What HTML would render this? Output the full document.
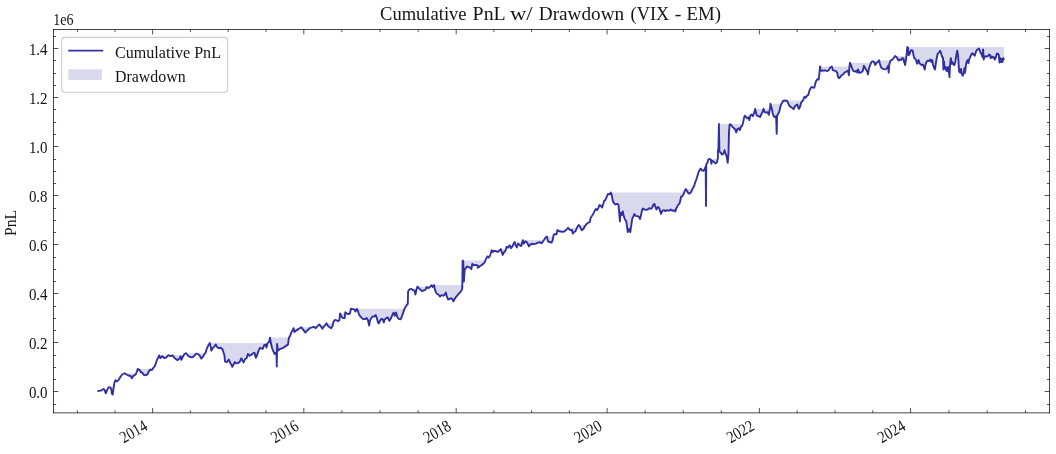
<!DOCTYPE html>
<html><head><meta charset="utf-8"><title>Cumulative PnL w/ Drawdown (VIX - EM)</title>
<style>
html,body{margin:0;padding:0;background:#fff;}
body{width:1056px;height:454px;overflow:hidden;}
svg{display:block;filter:blur(0.35px)}
text{font-family:"Liberation Serif",serif;fill:#141414;}
</style></head><body>
<svg width="1056" height="454" viewBox="0 0 1056 454">
<rect x="0" y="0" width="1056" height="454" fill="#ffffff"/>
<path d="M97.3,391.1 L100.8,390.6 L103.5,389.0 L104.6,390.2 L105.8,393.4 L107.1,390.2 L108.6,387.1 L110.6,387.7 L111.5,390.2 L111.8,393.4 L112.7,394.6 L113.3,390.2 L114.4,382.7 L115.6,380.2 L117.1,381.4 L118.6,379.9 L120.3,377.1 L122.1,374.5 L124.7,373.3 L126.5,374.5 L129.1,375.8 L130.3,375.8 L131.9,378.3 L133.4,375.8 L135.7,374.5 L137.0,371.4 L137.8,368.9 L139.5,370.1 L141.0,372.6 L142.2,372.4 L143.8,374.9 L145.4,375.2 L147.3,374.5 L149.2,370.8 L150.4,369.5 L151.7,370.1 L153.5,367.6 L154.8,366.4 L156.1,362.6 L157.1,359.5 L158.3,357.6 L159.2,355.3 L160.4,358.2 L162.3,356.1 L164.2,358.2 L166.1,357.6 L168.4,355.1 L170.5,356.1 L172.4,355.3 L174.3,357.6 L175.9,359.1 L177.4,360.1 L179.3,358.8 L180.5,356.3 L181.4,359.8 L182.7,357.0 L184.3,354.1 L186.2,353.2 L188.1,355.7 L190.0,357.0 L192.5,357.3 L194.4,355.7 L196.2,353.6 L198.1,354.1 L199.8,355.7 L201.3,358.6 L203.2,356.3 L204.4,354.1 L205.7,352.6 L206.5,349.4 L208.2,345.6 L209.8,343.1 L210.7,346.9 L211.3,350.7 L212.6,348.2 L214.1,346.9 L215.7,344.4 L217.0,346.9 L218.8,348.2 L220.7,347.8 L222.6,349.4 L223.9,353.8 L224.4,355.2 L225.0,361.5 L226.9,362.1 L228.8,359.6 L230.1,362.7 L231.3,364.6 L232.3,366.8 L233.6,364.6 L234.8,362.1 L236.3,363.4 L238.2,363.0 L239.8,361.7 L241.3,358.3 L242.4,360.2 L243.6,362.5 L245.1,359.0 L246.6,358.3 L247.9,353.9 L249.5,355.8 L251.4,354.6 L253.3,353.3 L254.5,352.7 L255.8,357.7 L257.1,355.2 L258.3,351.4 L259.9,347.9 L261.4,348.3 L262.7,348.9 L264.2,345.1 L265.5,344.5 L266.5,347.6 L267.5,343.3 L269.0,342.0 L270.0,337.6 L270.9,343.3 L272.1,348.3 L273.4,351.4 L274.6,353.9 L275.9,352.7 L276.5,355.2 L276.8,366.5 L277.1,343.9 L277.8,350.8 L279.7,349.2 L281.5,348.7 L283.4,347.6 L285.3,346.4 L287.2,345.1 L288.1,344.5 L288.8,338.2 L290.1,335.7 L291.3,332.6 L292.6,330.1 L293.5,328.2 L294.4,332.0 L296.0,330.7 L297.9,329.4 L299.8,328.2 L301.4,327.3 L302.9,329.4 L304.4,331.3 L305.4,332.6 L306.9,330.7 L308.5,329.4 L310.4,327.8 L312.3,327.3 L314.2,326.9 L315.7,328.2 L317.3,326.3 L319.2,324.4 L320.7,326.3 L322.4,328.8 L323.6,326.9 L325.2,325.1 L326.5,323.2 L327.8,325.7 L329.3,326.9 L331.1,328.2 L332.5,326.2 L333.4,321.9 L335.0,319.9 L336.6,320.3 L338.1,321.2 L339.4,320.0 L340.1,313.4 L341.2,316.2 L342.8,318.1 L344.7,318.1 L345.3,312.2 L346.6,313.6 L348.4,314.2 L350.0,313.4 L350.9,308.8 L352.5,309.1 L354.1,309.2 L355.5,311.6 L356.9,308.8 L357.8,310.6 L358.8,314.1 L360.6,316.9 L363.1,319.1 L365.0,319.1 L366.6,318.1 L368.1,320.6 L369.1,325.6 L370.0,320.6 L371.2,318.1 L372.8,316.4 L374.4,316.6 L375.6,315.0 L376.9,318.1 L377.8,321.9 L378.8,323.4 L380.0,320.6 L381.6,318.8 L382.8,319.4 L383.8,322.5 L384.7,319.4 L386.0,318.4 L387.8,317.4 L389.4,320.8 L390.6,319.0 L392.3,315.2 L393.5,312.7 L394.8,315.8 L396.0,312.4 L397.3,317.1 L398.8,319.0 L400.7,319.2 L401.9,316.4 L403.2,312.7 L404.8,307.9 L406.1,306.4 L407.0,304.5 L407.8,303.9 L408.1,291.3 L409.5,289.4 L411.1,288.8 L412.9,290.1 L414.5,290.7 L415.4,294.5 L416.4,290.1 L417.4,286.6 L418.9,288.2 L420.4,289.8 L422.0,291.1 L423.9,290.3 L425.4,289.8 L426.7,286.9 L428.3,288.2 L429.9,286.9 L431.4,285.3 L432.7,286.9 L434.0,285.1 L434.6,288.2 L435.5,291.3 L436.7,293.6 L438.4,294.5 L440.0,296.6 L441.5,295.1 L443.4,295.7 L444.6,294.8 L445.9,292.6 L446.8,296.4 L448.0,299.5 L449.7,298.9 L451.3,298.2 L452.6,299.5 L453.4,301.4 L454.7,298.9 L455.9,297.0 L457.6,295.1 L459.3,293.2 L461.0,291.3 L462.0,289.4 L462.3,288.0 L462.6,260.6 L463.2,261.0 L463.9,281.4 L464.7,269.0 L465.3,269.0 L466.9,266.4 L468.6,267.1 L470.1,267.7 L471.3,269.2 L472.3,263.9 L473.8,265.2 L475.7,264.9 L477.4,265.4 L477.9,267.7 L479.5,266.4 L481.4,265.2 L483.3,263.9 L484.5,262.7 L485.8,259.5 L487.4,256.4 L488.7,257.6 L489.9,255.8 L490.8,253.3 L491.7,250.1 L492.7,252.0 L494.2,250.8 L495.8,251.1 L497.7,252.0 L499.2,250.8 L500.8,249.1 L501.7,252.0 L502.7,254.9 L504.2,252.0 L505.5,250.8 L506.5,247.0 L508.0,247.6 L509.6,245.3 L510.9,248.2 L512.5,246.3 L513.8,243.2 L514.7,242.0 L515.5,245.1 L516.8,247.4 L518.0,243.8 L519.7,245.1 L521.3,246.1 L522.8,240.1 L523.8,243.8 L525.3,241.3 L527.2,242.6 L528.9,246.3 L530.4,244.5 L532.2,243.8 L534.1,244.1 L536.0,243.6 L537.9,242.6 L539.8,242.3 L541.7,243.2 L543.5,240.7 L545.4,237.8 L546.9,236.6 L547.9,241.3 L549.8,242.0 L551.5,242.6 L552.7,240.1 L553.6,235.1 L554.9,234.0 L556.5,234.4 L557.4,230.0 L558.6,231.0 L560.5,231.5 L562.4,231.9 L564.3,231.5 L566.1,230.0 L568.0,227.8 L569.3,229.4 L570.8,230.3 L571.8,229.8 L572.8,233.5 L574.3,231.9 L575.8,230.7 L577.5,226.5 L578.7,225.0 L579.4,225.8 L580.7,228.3 L581.9,230.2 L583.6,228.7 L585.1,225.8 L586.6,223.9 L588.2,222.7 L589.8,222.1 L590.7,217.7 L592.0,215.8 L593.2,213.9 L594.5,211.4 L595.8,208.9 L597.0,210.1 L598.3,208.2 L599.5,205.1 L600.8,205.7 L602.0,207.6 L603.3,203.8 L604.2,200.7 L605.4,200.1 L606.7,196.9 L607.9,194.0 L609.6,194.4 L610.8,192.5 L611.7,195.1 L612.7,200.7 L614.0,203.2 L615.5,204.5 L617.1,203.8 L618.4,204.5 L619.2,212.6 L619.9,221.4 L620.5,212.6 L621.8,215.1 L622.8,211.4 L623.8,216.4 L625.0,219.5 L626.3,221.4 L627.1,227.1 L627.8,232.1 L629.3,229.0 L630.3,232.1 L631.3,225.2 L632.2,218.9 L633.4,216.4 L634.3,214.1 L635.6,215.8 L637.2,216.2 L638.8,216.7 L640.1,218.9 L641.0,215.1 L641.8,211.4 L642.8,208.6 L644.4,209.5 L646.0,209.9 L647.6,209.5 L649.1,208.2 L651.0,208.9 L652.3,207.6 L653.1,205.1 L654.4,203.8 L655.4,207.0 L656.4,209.5 L657.7,207.0 L658.9,207.6 L659.8,210.1 L661.1,213.9 L662.3,210.8 L663.9,210.1 L665.5,211.1 L667.3,210.1 L669.2,210.8 L670.7,209.5 L672.4,210.8 L674.0,210.1 L675.2,211.6 L676.5,208.2 L678.0,205.1 L679.5,203.6 L680.5,200.1 L681.1,196.6 L682.4,196.1 L683.7,193.8 L684.9,190.7 L685.8,189.0 L687.0,191.0 L688.3,193.2 L689.9,193.5 L691.2,191.9 L692.5,188.8 L694.1,186.0 L695.3,182.1 L696.5,179.0 L697.6,175.2 L698.6,172.1 L699.8,169.6 L700.7,168.6 L702.0,170.6 L703.6,170.8 L704.8,169.0 L705.7,166.4 L706.0,206.0 L706.2,164.6 L707.4,162.7 L708.2,159.8 L709.5,158.9 L710.8,159.5 L711.4,163.9 L712.0,160.8 L713.3,161.4 L714.5,162.7 L715.8,163.3 L717.0,162.1 L717.9,157.7 L717.9,150.2 L718.4,149.6 L718.9,123.9 L719.4,151.5 L720.8,152.8 L722.0,154.6 L723.3,154.0 L724.6,150.2 L725.4,153.4 L726.5,155.9 L727.7,162.8 L728.5,152.8 L729.0,132.7 L729.6,124.5 L730.8,124.5 L732.5,127.0 L734.0,128.3 L735.2,129.5 L736.2,132.4 L737.5,128.9 L738.8,128.3 L739.8,130.1 L740.9,127.0 L742.1,125.8 L743.0,123.2 L743.8,118.8 L744.7,115.7 L745.9,117.0 L747.2,118.2 L748.4,117.6 L749.3,120.1 L750.3,115.7 L751.6,114.4 L752.8,116.3 L754.1,113.2 L755.1,109.0 L756.0,112.6 L756.8,115.7 L758.5,116.1 L760.1,117.0 L761.6,113.8 L762.6,111.9 L763.5,108.8 L764.4,111.9 L766.0,112.6 L767.6,112.3 L768.9,114.8 L769.8,109.4 L770.4,103.8 L771.7,108.2 L772.7,113.2 L773.9,116.6 L775.2,117.0 L776.1,116.3 L776.7,133.9 L777.1,115.7 L778.2,113.8 L779.2,111.9 L780.2,107.5 L781.1,104.4 L781.9,103.3 L783.2,100.8 L785.0,100.5 L786.9,100.8 L788.2,103.3 L789.4,105.9 L791.1,107.1 L792.6,108.4 L793.6,109.0 L794.8,106.5 L796.1,105.2 L797.4,104.6 L798.2,107.8 L799.1,108.8 L800.1,106.5 L801.1,102.7 L802.4,101.2 L803.6,99.0 L804.5,96.7 L805.8,97.7 L807.0,95.8 L808.3,94.9 L809.2,91.4 L810.2,88.9 L811.4,87.0 L812.7,87.4 L814.2,87.7 L815.2,83.9 L816.2,80.8 L817.5,79.1 L818.7,79.5 L819.5,72.6 L820.0,66.5 L820.8,70.7 L822.5,70.7 L824.2,70.3 L825.9,70.7 L827.5,71.1 L829.0,69.8 L830.3,67.6 L831.8,66.5 L832.8,70.1 L834.3,70.7 L835.9,71.1 L837.2,72.6 L838.0,77.0 L839.3,78.2 L840.6,76.6 L841.8,75.1 L843.1,74.5 L844.3,72.8 L845.6,72.0 L847.2,71.1 L848.1,70.7 L848.9,75.3 L849.4,67.6 L849.9,62.8 L851.0,65.0 L852.2,68.8 L853.5,71.1 L855.1,71.6 L856.4,70.7 L857.3,72.6 L858.1,69.4 L859.1,72.6 L860.4,72.8 L861.7,72.0 L862.9,70.7 L863.9,65.7 L864.8,67.6 L866.1,69.8 L867.3,71.3 L867.9,74.5 L868.9,68.8 L870.2,65.0 L871.5,61.9 L873.0,61.3 L874.2,62.3 L875.2,65.0 L876.5,62.8 L878.0,61.9 L879.0,60.3 L879.9,63.8 L881.1,67.6 L882.4,68.6 L884.0,69.1 L885.5,69.4 L886.8,68.2 L888.0,66.0 L888.7,72.6 L889.3,64.4 L890.5,60.6 L892.0,59.8 L893.7,58.1 L894.9,56.0 L896.2,56.9 L897.5,58.8 L898.7,60.6 L900.0,59.4 L901.2,60.0 L902.5,58.1 L903.7,58.8 L903.8,60.8 L905.1,65.1 L906.1,58.9 L906.8,52.6 L907.3,46.9 L908.0,47.6 L908.6,55.1 L909.5,54.5 L910.4,51.3 L911.4,50.1 L912.6,50.7 L913.2,53.8 L914.1,57.6 L915.1,58.9 L916.1,60.1 L917.0,63.9 L917.9,62.0 L918.6,60.1 L919.5,63.3 L920.8,64.5 L922.0,65.1 L922.9,64.5 L923.9,67.0 L924.7,69.5 L925.4,65.1 L926.4,62.0 L927.7,60.8 L929.2,61.1 L930.2,59.5 L931.5,62.0 L932.2,60.1 L933.0,64.5 L934.0,67.7 L935.0,69.5 L935.8,63.9 L936.7,58.2 L937.7,53.8 L939.0,52.6 L940.2,50.7 L941.2,53.8 L942.1,57.0 L943.0,57.6 L943.4,69.5 L944.0,61.4 L944.6,68.9 L945.5,67.0 L946.3,70.8 L947.1,67.7 L947.8,71.4 L948.4,67.0 L949.0,72.7 L949.5,77.1 L950.0,65.1 L950.8,58.2 L951.5,63.9 L952.5,62.0 L953.4,64.5 L954.3,65.1 L955.3,62.0 L956.1,56.4 L956.8,52.6 L957.3,50.7 L958.1,56.4 L958.6,63.9 L959.1,71.4 L960.1,72.7 L961.0,68.9 L961.8,73.9 L962.8,75.8 L963.9,72.7 L964.4,68.3 L965.1,72.7 L965.9,65.1 L966.6,62.0 L967.6,60.1 L968.4,63.3 L969.1,59.5 L970.1,57.6 L971.0,55.1 L972.3,53.2 L973.5,54.5 L974.8,55.7 L975.7,52.6 L976.7,50.1 L977.9,49.4 L978.9,48.6 L979.9,50.7 L980.7,53.2 L981.7,54.5 L982.4,57.0 L983.1,49.4 L983.7,59.5 L984.5,57.0 L985.5,56.1 L986.7,56.6 L988.0,56.1 L989.0,54.5 L990.0,55.1 L990.7,58.2 L991.7,56.4 L992.7,57.6 L993.7,57.0 L994.8,59.5 L995.8,57.6 L996.8,53.8 L997.8,53.6 L998.8,55.1 L999.5,62.6 L1000.3,58.2 L1001.0,62.0 L1001.8,58.9 L1002.5,62.0 L1003.3,58.2 L1004.0,60.1 L1004.0,46.9 L1003.3,46.9 L1002.5,46.9 L1001.8,46.9 L1001.0,46.9 L1000.3,46.9 L999.5,46.9 L998.8,46.9 L997.8,46.9 L996.8,46.9 L995.8,46.9 L994.8,46.9 L993.7,46.9 L992.7,46.9 L991.7,46.9 L990.7,46.9 L990.0,46.9 L989.0,46.9 L988.0,46.9 L986.7,46.9 L985.5,46.9 L984.5,46.9 L983.7,46.9 L983.1,46.9 L982.4,46.9 L981.7,46.9 L980.7,46.9 L979.9,46.9 L978.9,46.9 L977.9,46.9 L976.7,46.9 L975.7,46.9 L974.8,46.9 L973.5,46.9 L972.3,46.9 L971.0,46.9 L970.1,46.9 L969.1,46.9 L968.4,46.9 L967.6,46.9 L966.6,46.9 L965.9,46.9 L965.1,46.9 L964.4,46.9 L963.9,46.9 L962.8,46.9 L961.8,46.9 L961.0,46.9 L960.1,46.9 L959.1,46.9 L958.6,46.9 L958.1,46.9 L957.3,46.9 L956.8,46.9 L956.1,46.9 L955.3,46.9 L954.3,46.9 L953.4,46.9 L952.5,46.9 L951.5,46.9 L950.8,46.9 L950.0,46.9 L949.5,46.9 L949.0,46.9 L948.4,46.9 L947.8,46.9 L947.1,46.9 L946.3,46.9 L945.5,46.9 L944.6,46.9 L944.0,46.9 L943.4,46.9 L943.0,46.9 L942.1,46.9 L941.2,46.9 L940.2,46.9 L939.0,46.9 L937.7,46.9 L936.7,46.9 L935.8,46.9 L935.0,46.9 L934.0,46.9 L933.0,46.9 L932.2,46.9 L931.5,46.9 L930.2,46.9 L929.2,46.9 L927.7,46.9 L926.4,46.9 L925.4,46.9 L924.7,46.9 L923.9,46.9 L922.9,46.9 L922.0,46.9 L920.8,46.9 L919.5,46.9 L918.6,46.9 L917.9,46.9 L917.0,46.9 L916.1,46.9 L915.1,46.9 L914.1,46.9 L913.2,46.9 L912.6,46.9 L911.4,46.9 L910.4,46.9 L909.5,46.9 L908.6,46.9 L908.0,46.9 L907.3,46.9 L906.8,52.6 L906.1,56.0 L905.1,56.0 L903.8,56.0 L903.7,56.0 L902.5,56.0 L901.2,56.0 L900.0,56.0 L898.7,56.0 L897.5,56.0 L896.2,56.0 L894.9,56.0 L893.7,58.1 L892.0,59.8 L890.5,60.3 L889.3,60.3 L888.7,60.3 L888.0,60.3 L886.8,60.3 L885.5,60.3 L884.0,60.3 L882.4,60.3 L881.1,60.3 L879.9,60.3 L879.0,60.3 L878.0,61.3 L876.5,61.3 L875.2,61.3 L874.2,61.3 L873.0,61.3 L871.5,61.9 L870.2,62.8 L868.9,62.8 L867.9,62.8 L867.3,62.8 L866.1,62.8 L864.8,62.8 L863.9,62.8 L862.9,62.8 L861.7,62.8 L860.4,62.8 L859.1,62.8 L858.1,62.8 L857.3,62.8 L856.4,62.8 L855.1,62.8 L853.5,62.8 L852.2,62.8 L851.0,62.8 L849.9,62.8 L849.4,66.5 L848.9,66.5 L848.1,66.5 L847.2,66.5 L845.6,66.5 L844.3,66.5 L843.1,66.5 L841.8,66.5 L840.6,66.5 L839.3,66.5 L838.0,66.5 L837.2,66.5 L835.9,66.5 L834.3,66.5 L832.8,66.5 L831.8,66.5 L830.3,66.5 L829.0,66.5 L827.5,66.5 L825.9,66.5 L824.2,66.5 L822.5,66.5 L820.8,66.5 L820.0,66.5 L819.5,72.6 L818.7,79.1 L817.5,79.1 L816.2,80.8 L815.2,83.9 L814.2,87.0 L812.7,87.0 L811.4,87.0 L810.2,88.9 L809.2,91.4 L808.3,94.9 L807.0,95.8 L805.8,96.7 L804.5,96.7 L803.6,99.0 L802.4,100.5 L801.1,100.5 L800.1,100.5 L799.1,100.5 L798.2,100.5 L797.4,100.5 L796.1,100.5 L794.8,100.5 L793.6,100.5 L792.6,100.5 L791.1,100.5 L789.4,100.5 L788.2,100.5 L786.9,100.5 L785.0,100.5 L783.2,100.8 L781.9,103.3 L781.1,103.8 L780.2,103.8 L779.2,103.8 L778.2,103.8 L777.1,103.8 L776.7,103.8 L776.1,103.8 L775.2,103.8 L773.9,103.8 L772.7,103.8 L771.7,103.8 L770.4,103.8 L769.8,108.8 L768.9,108.8 L767.6,108.8 L766.0,108.8 L764.4,108.8 L763.5,108.8 L762.6,109.0 L761.6,109.0 L760.1,109.0 L758.5,109.0 L756.8,109.0 L756.0,109.0 L755.1,109.0 L754.1,113.2 L752.8,114.4 L751.6,114.4 L750.3,115.7 L749.3,115.7 L748.4,115.7 L747.2,115.7 L745.9,115.7 L744.7,115.7 L743.8,118.8 L743.0,123.2 L742.1,123.9 L740.9,123.9 L739.8,123.9 L738.8,123.9 L737.5,123.9 L736.2,123.9 L735.2,123.9 L734.0,123.9 L732.5,123.9 L730.8,123.9 L729.6,123.9 L729.0,123.9 L728.5,123.9 L727.7,123.9 L726.5,123.9 L725.4,123.9 L724.6,123.9 L723.3,123.9 L722.0,123.9 L720.8,123.9 L719.4,123.9 L718.9,123.9 L718.4,149.6 L717.9,150.2 L717.9,157.7 L717.0,158.9 L715.8,158.9 L714.5,158.9 L713.3,158.9 L712.0,158.9 L711.4,158.9 L710.8,158.9 L709.5,158.9 L708.2,159.8 L707.4,162.7 L706.2,164.6 L706.0,166.4 L705.7,166.4 L704.8,168.6 L703.6,168.6 L702.0,168.6 L700.7,168.6 L699.8,169.6 L698.6,172.1 L697.6,175.2 L696.5,179.0 L695.3,182.1 L694.1,186.0 L692.5,188.8 L691.2,189.0 L689.9,189.0 L688.3,189.0 L687.0,189.0 L685.8,189.0 L684.9,190.7 L683.7,192.5 L682.4,192.5 L681.1,192.5 L680.5,192.5 L679.5,192.5 L678.0,192.5 L676.5,192.5 L675.2,192.5 L674.0,192.5 L672.4,192.5 L670.7,192.5 L669.2,192.5 L667.3,192.5 L665.5,192.5 L663.9,192.5 L662.3,192.5 L661.1,192.5 L659.8,192.5 L658.9,192.5 L657.7,192.5 L656.4,192.5 L655.4,192.5 L654.4,192.5 L653.1,192.5 L652.3,192.5 L651.0,192.5 L649.1,192.5 L647.6,192.5 L646.0,192.5 L644.4,192.5 L642.8,192.5 L641.8,192.5 L641.0,192.5 L640.1,192.5 L638.8,192.5 L637.2,192.5 L635.6,192.5 L634.3,192.5 L633.4,192.5 L632.2,192.5 L631.3,192.5 L630.3,192.5 L629.3,192.5 L627.8,192.5 L627.1,192.5 L626.3,192.5 L625.0,192.5 L623.8,192.5 L622.8,192.5 L621.8,192.5 L620.5,192.5 L619.9,192.5 L619.2,192.5 L618.4,192.5 L617.1,192.5 L615.5,192.5 L614.0,192.5 L612.7,192.5 L611.7,192.5 L610.8,192.5 L609.6,194.0 L607.9,194.0 L606.7,196.9 L605.4,200.1 L604.2,200.7 L603.3,203.8 L602.0,205.1 L600.8,205.1 L599.5,205.1 L598.3,208.2 L597.0,208.9 L595.8,208.9 L594.5,211.4 L593.2,213.9 L592.0,215.8 L590.7,217.7 L589.8,222.1 L588.2,222.7 L586.6,223.9 L585.1,225.0 L583.6,225.0 L581.9,225.0 L580.7,225.0 L579.4,225.0 L578.7,225.0 L577.5,226.5 L575.8,227.8 L574.3,227.8 L572.8,227.8 L571.8,227.8 L570.8,227.8 L569.3,227.8 L568.0,227.8 L566.1,230.0 L564.3,230.0 L562.4,230.0 L560.5,230.0 L558.6,230.0 L557.4,230.0 L556.5,234.0 L554.9,234.0 L553.6,235.1 L552.7,236.6 L551.5,236.6 L549.8,236.6 L547.9,236.6 L546.9,236.6 L545.4,237.8 L543.5,240.1 L541.7,240.1 L539.8,240.1 L537.9,240.1 L536.0,240.1 L534.1,240.1 L532.2,240.1 L530.4,240.1 L528.9,240.1 L527.2,240.1 L525.3,240.1 L523.8,240.1 L522.8,240.1 L521.3,242.0 L519.7,242.0 L518.0,242.0 L516.8,242.0 L515.5,242.0 L514.7,242.0 L513.8,243.2 L512.5,245.3 L510.9,245.3 L509.6,245.3 L508.0,247.0 L506.5,247.0 L505.5,249.1 L504.2,249.1 L502.7,249.1 L501.7,249.1 L500.8,249.1 L499.2,250.1 L497.7,250.1 L495.8,250.1 L494.2,250.1 L492.7,250.1 L491.7,250.1 L490.8,253.3 L489.9,255.8 L488.7,256.4 L487.4,256.4 L485.8,259.5 L484.5,260.6 L483.3,260.6 L481.4,260.6 L479.5,260.6 L477.9,260.6 L477.4,260.6 L475.7,260.6 L473.8,260.6 L472.3,260.6 L471.3,260.6 L470.1,260.6 L468.6,260.6 L466.9,260.6 L465.3,260.6 L464.7,260.6 L463.9,260.6 L463.2,260.6 L462.6,260.6 L462.3,285.1 L462.0,285.1 L461.0,285.1 L459.3,285.1 L457.6,285.1 L455.9,285.1 L454.7,285.1 L453.4,285.1 L452.6,285.1 L451.3,285.1 L449.7,285.1 L448.0,285.1 L446.8,285.1 L445.9,285.1 L444.6,285.1 L443.4,285.1 L441.5,285.1 L440.0,285.1 L438.4,285.1 L436.7,285.1 L435.5,285.1 L434.6,285.1 L434.0,285.1 L432.7,285.3 L431.4,285.3 L429.9,286.6 L428.3,286.6 L426.7,286.6 L425.4,286.6 L423.9,286.6 L422.0,286.6 L420.4,286.6 L418.9,286.6 L417.4,286.6 L416.4,288.8 L415.4,288.8 L414.5,288.8 L412.9,288.8 L411.1,288.8 L409.5,289.4 L408.1,291.3 L407.8,303.9 L407.0,304.5 L406.1,306.4 L404.8,307.9 L403.2,308.8 L401.9,308.8 L400.7,308.8 L398.8,308.8 L397.3,308.8 L396.0,308.8 L394.8,308.8 L393.5,308.8 L392.3,308.8 L390.6,308.8 L389.4,308.8 L387.8,308.8 L386.0,308.8 L384.7,308.8 L383.8,308.8 L382.8,308.8 L381.6,308.8 L380.0,308.8 L378.8,308.8 L377.8,308.8 L376.9,308.8 L375.6,308.8 L374.4,308.8 L372.8,308.8 L371.2,308.8 L370.0,308.8 L369.1,308.8 L368.1,308.8 L366.6,308.8 L365.0,308.8 L363.1,308.8 L360.6,308.8 L358.8,308.8 L357.8,308.8 L356.9,308.8 L355.5,308.8 L354.1,308.8 L352.5,308.8 L350.9,308.8 L350.0,312.2 L348.4,312.2 L346.6,312.2 L345.3,312.2 L344.7,313.4 L342.8,313.4 L341.2,313.4 L340.1,313.4 L339.4,319.9 L338.1,319.9 L336.6,319.9 L335.0,319.9 L333.4,321.9 L332.5,323.2 L331.1,323.2 L329.3,323.2 L327.8,323.2 L326.5,323.2 L325.2,324.4 L323.6,324.4 L322.4,324.4 L320.7,324.4 L319.2,324.4 L317.3,326.3 L315.7,326.9 L314.2,326.9 L312.3,327.3 L310.4,327.3 L308.5,327.3 L306.9,327.3 L305.4,327.3 L304.4,327.3 L302.9,327.3 L301.4,327.3 L299.8,328.2 L297.9,328.2 L296.0,328.2 L294.4,328.2 L293.5,328.2 L292.6,330.1 L291.3,332.6 L290.1,335.7 L288.8,337.6 L288.1,337.6 L287.2,337.6 L285.3,337.6 L283.4,337.6 L281.5,337.6 L279.7,337.6 L277.8,337.6 L277.1,337.6 L276.8,337.6 L276.5,337.6 L275.9,337.6 L274.6,337.6 L273.4,337.6 L272.1,337.6 L270.9,337.6 L270.0,337.6 L269.0,342.0 L267.5,343.1 L266.5,343.1 L265.5,343.1 L264.2,343.1 L262.7,343.1 L261.4,343.1 L259.9,343.1 L258.3,343.1 L257.1,343.1 L255.8,343.1 L254.5,343.1 L253.3,343.1 L251.4,343.1 L249.5,343.1 L247.9,343.1 L246.6,343.1 L245.1,343.1 L243.6,343.1 L242.4,343.1 L241.3,343.1 L239.8,343.1 L238.2,343.1 L236.3,343.1 L234.8,343.1 L233.6,343.1 L232.3,343.1 L231.3,343.1 L230.1,343.1 L228.8,343.1 L226.9,343.1 L225.0,343.1 L224.4,343.1 L223.9,343.1 L222.6,343.1 L220.7,343.1 L218.8,343.1 L217.0,343.1 L215.7,343.1 L214.1,343.1 L212.6,343.1 L211.3,343.1 L210.7,343.1 L209.8,343.1 L208.2,345.6 L206.5,349.4 L205.7,352.6 L204.4,353.2 L203.2,353.2 L201.3,353.2 L199.8,353.2 L198.1,353.2 L196.2,353.2 L194.4,353.2 L192.5,353.2 L190.0,353.2 L188.1,353.2 L186.2,353.2 L184.3,354.1 L182.7,355.1 L181.4,355.1 L180.5,355.1 L179.3,355.1 L177.4,355.1 L175.9,355.1 L174.3,355.1 L172.4,355.1 L170.5,355.1 L168.4,355.1 L166.1,355.3 L164.2,355.3 L162.3,355.3 L160.4,355.3 L159.2,355.3 L158.3,357.6 L157.1,359.5 L156.1,362.6 L154.8,366.4 L153.5,367.6 L151.7,368.9 L150.4,368.9 L149.2,368.9 L147.3,368.9 L145.4,368.9 L143.8,368.9 L142.2,368.9 L141.0,368.9 L139.5,368.9 L137.8,368.9 L137.0,371.4 L135.7,373.3 L133.4,373.3 L131.9,373.3 L130.3,373.3 L129.1,373.3 L126.5,373.3 L124.7,373.3 L122.1,374.5 L120.3,377.1 L118.6,379.9 L117.1,380.2 L115.6,380.2 L114.4,382.7 L113.3,387.1 L112.7,387.1 L111.8,387.1 L111.5,387.1 L110.6,387.1 L108.6,387.1 L107.1,389.0 L105.8,389.0 L104.6,389.0 L103.5,389.0 L100.8,390.6 L97.3,391.1 Z" fill="#00008b" fill-opacity="0.15" stroke="none"/>
<path d="M97.3,391.1 L100.8,390.6 L103.5,389.0 L104.6,390.2 L105.8,393.4 L107.1,390.2 L108.6,387.1 L110.6,387.7 L111.5,390.2 L111.8,393.4 L112.7,394.6 L113.3,390.2 L114.4,382.7 L115.6,380.2 L117.1,381.4 L118.6,379.9 L120.3,377.1 L122.1,374.5 L124.7,373.3 L126.5,374.5 L129.1,375.8 L130.3,375.8 L131.9,378.3 L133.4,375.8 L135.7,374.5 L137.0,371.4 L137.8,368.9 L139.5,370.1 L141.0,372.6 L142.2,372.4 L143.8,374.9 L145.4,375.2 L147.3,374.5 L149.2,370.8 L150.4,369.5 L151.7,370.1 L153.5,367.6 L154.8,366.4 L156.1,362.6 L157.1,359.5 L158.3,357.6 L159.2,355.3 L160.4,358.2 L162.3,356.1 L164.2,358.2 L166.1,357.6 L168.4,355.1 L170.5,356.1 L172.4,355.3 L174.3,357.6 L175.9,359.1 L177.4,360.1 L179.3,358.8 L180.5,356.3 L181.4,359.8 L182.7,357.0 L184.3,354.1 L186.2,353.2 L188.1,355.7 L190.0,357.0 L192.5,357.3 L194.4,355.7 L196.2,353.6 L198.1,354.1 L199.8,355.7 L201.3,358.6 L203.2,356.3 L204.4,354.1 L205.7,352.6 L206.5,349.4 L208.2,345.6 L209.8,343.1 L210.7,346.9 L211.3,350.7 L212.6,348.2 L214.1,346.9 L215.7,344.4 L217.0,346.9 L218.8,348.2 L220.7,347.8 L222.6,349.4 L223.9,353.8 L224.4,355.2 L225.0,361.5 L226.9,362.1 L228.8,359.6 L230.1,362.7 L231.3,364.6 L232.3,366.8 L233.6,364.6 L234.8,362.1 L236.3,363.4 L238.2,363.0 L239.8,361.7 L241.3,358.3 L242.4,360.2 L243.6,362.5 L245.1,359.0 L246.6,358.3 L247.9,353.9 L249.5,355.8 L251.4,354.6 L253.3,353.3 L254.5,352.7 L255.8,357.7 L257.1,355.2 L258.3,351.4 L259.9,347.9 L261.4,348.3 L262.7,348.9 L264.2,345.1 L265.5,344.5 L266.5,347.6 L267.5,343.3 L269.0,342.0 L270.0,337.6 L270.9,343.3 L272.1,348.3 L273.4,351.4 L274.6,353.9 L275.9,352.7 L276.5,355.2 L276.8,366.5 L277.1,343.9 L277.8,350.8 L279.7,349.2 L281.5,348.7 L283.4,347.6 L285.3,346.4 L287.2,345.1 L288.1,344.5 L288.8,338.2 L290.1,335.7 L291.3,332.6 L292.6,330.1 L293.5,328.2 L294.4,332.0 L296.0,330.7 L297.9,329.4 L299.8,328.2 L301.4,327.3 L302.9,329.4 L304.4,331.3 L305.4,332.6 L306.9,330.7 L308.5,329.4 L310.4,327.8 L312.3,327.3 L314.2,326.9 L315.7,328.2 L317.3,326.3 L319.2,324.4 L320.7,326.3 L322.4,328.8 L323.6,326.9 L325.2,325.1 L326.5,323.2 L327.8,325.7 L329.3,326.9 L331.1,328.2 L332.5,326.2 L333.4,321.9 L335.0,319.9 L336.6,320.3 L338.1,321.2 L339.4,320.0 L340.1,313.4 L341.2,316.2 L342.8,318.1 L344.7,318.1 L345.3,312.2 L346.6,313.6 L348.4,314.2 L350.0,313.4 L350.9,308.8 L352.5,309.1 L354.1,309.2 L355.5,311.6 L356.9,308.8 L357.8,310.6 L358.8,314.1 L360.6,316.9 L363.1,319.1 L365.0,319.1 L366.6,318.1 L368.1,320.6 L369.1,325.6 L370.0,320.6 L371.2,318.1 L372.8,316.4 L374.4,316.6 L375.6,315.0 L376.9,318.1 L377.8,321.9 L378.8,323.4 L380.0,320.6 L381.6,318.8 L382.8,319.4 L383.8,322.5 L384.7,319.4 L386.0,318.4 L387.8,317.4 L389.4,320.8 L390.6,319.0 L392.3,315.2 L393.5,312.7 L394.8,315.8 L396.0,312.4 L397.3,317.1 L398.8,319.0 L400.7,319.2 L401.9,316.4 L403.2,312.7 L404.8,307.9 L406.1,306.4 L407.0,304.5 L407.8,303.9 L408.1,291.3 L409.5,289.4 L411.1,288.8 L412.9,290.1 L414.5,290.7 L415.4,294.5 L416.4,290.1 L417.4,286.6 L418.9,288.2 L420.4,289.8 L422.0,291.1 L423.9,290.3 L425.4,289.8 L426.7,286.9 L428.3,288.2 L429.9,286.9 L431.4,285.3 L432.7,286.9 L434.0,285.1 L434.6,288.2 L435.5,291.3 L436.7,293.6 L438.4,294.5 L440.0,296.6 L441.5,295.1 L443.4,295.7 L444.6,294.8 L445.9,292.6 L446.8,296.4 L448.0,299.5 L449.7,298.9 L451.3,298.2 L452.6,299.5 L453.4,301.4 L454.7,298.9 L455.9,297.0 L457.6,295.1 L459.3,293.2 L461.0,291.3 L462.0,289.4 L462.3,288.0 L462.6,260.6 L463.2,261.0 L463.9,281.4 L464.7,269.0 L465.3,269.0 L466.9,266.4 L468.6,267.1 L470.1,267.7 L471.3,269.2 L472.3,263.9 L473.8,265.2 L475.7,264.9 L477.4,265.4 L477.9,267.7 L479.5,266.4 L481.4,265.2 L483.3,263.9 L484.5,262.7 L485.8,259.5 L487.4,256.4 L488.7,257.6 L489.9,255.8 L490.8,253.3 L491.7,250.1 L492.7,252.0 L494.2,250.8 L495.8,251.1 L497.7,252.0 L499.2,250.8 L500.8,249.1 L501.7,252.0 L502.7,254.9 L504.2,252.0 L505.5,250.8 L506.5,247.0 L508.0,247.6 L509.6,245.3 L510.9,248.2 L512.5,246.3 L513.8,243.2 L514.7,242.0 L515.5,245.1 L516.8,247.4 L518.0,243.8 L519.7,245.1 L521.3,246.1 L522.8,240.1 L523.8,243.8 L525.3,241.3 L527.2,242.6 L528.9,246.3 L530.4,244.5 L532.2,243.8 L534.1,244.1 L536.0,243.6 L537.9,242.6 L539.8,242.3 L541.7,243.2 L543.5,240.7 L545.4,237.8 L546.9,236.6 L547.9,241.3 L549.8,242.0 L551.5,242.6 L552.7,240.1 L553.6,235.1 L554.9,234.0 L556.5,234.4 L557.4,230.0 L558.6,231.0 L560.5,231.5 L562.4,231.9 L564.3,231.5 L566.1,230.0 L568.0,227.8 L569.3,229.4 L570.8,230.3 L571.8,229.8 L572.8,233.5 L574.3,231.9 L575.8,230.7 L577.5,226.5 L578.7,225.0 L579.4,225.8 L580.7,228.3 L581.9,230.2 L583.6,228.7 L585.1,225.8 L586.6,223.9 L588.2,222.7 L589.8,222.1 L590.7,217.7 L592.0,215.8 L593.2,213.9 L594.5,211.4 L595.8,208.9 L597.0,210.1 L598.3,208.2 L599.5,205.1 L600.8,205.7 L602.0,207.6 L603.3,203.8 L604.2,200.7 L605.4,200.1 L606.7,196.9 L607.9,194.0 L609.6,194.4 L610.8,192.5 L611.7,195.1 L612.7,200.7 L614.0,203.2 L615.5,204.5 L617.1,203.8 L618.4,204.5 L619.2,212.6 L619.9,221.4 L620.5,212.6 L621.8,215.1 L622.8,211.4 L623.8,216.4 L625.0,219.5 L626.3,221.4 L627.1,227.1 L627.8,232.1 L629.3,229.0 L630.3,232.1 L631.3,225.2 L632.2,218.9 L633.4,216.4 L634.3,214.1 L635.6,215.8 L637.2,216.2 L638.8,216.7 L640.1,218.9 L641.0,215.1 L641.8,211.4 L642.8,208.6 L644.4,209.5 L646.0,209.9 L647.6,209.5 L649.1,208.2 L651.0,208.9 L652.3,207.6 L653.1,205.1 L654.4,203.8 L655.4,207.0 L656.4,209.5 L657.7,207.0 L658.9,207.6 L659.8,210.1 L661.1,213.9 L662.3,210.8 L663.9,210.1 L665.5,211.1 L667.3,210.1 L669.2,210.8 L670.7,209.5 L672.4,210.8 L674.0,210.1 L675.2,211.6 L676.5,208.2 L678.0,205.1 L679.5,203.6 L680.5,200.1 L681.1,196.6 L682.4,196.1 L683.7,193.8 L684.9,190.7 L685.8,189.0 L687.0,191.0 L688.3,193.2 L689.9,193.5 L691.2,191.9 L692.5,188.8 L694.1,186.0 L695.3,182.1 L696.5,179.0 L697.6,175.2 L698.6,172.1 L699.8,169.6 L700.7,168.6 L702.0,170.6 L703.6,170.8 L704.8,169.0 L705.7,166.4 L706.0,206.0 L706.2,164.6 L707.4,162.7 L708.2,159.8 L709.5,158.9 L710.8,159.5 L711.4,163.9 L712.0,160.8 L713.3,161.4 L714.5,162.7 L715.8,163.3 L717.0,162.1 L717.9,157.7 L717.9,150.2 L718.4,149.6 L718.9,123.9 L719.4,151.5 L720.8,152.8 L722.0,154.6 L723.3,154.0 L724.6,150.2 L725.4,153.4 L726.5,155.9 L727.7,162.8 L728.5,152.8 L729.0,132.7 L729.6,124.5 L730.8,124.5 L732.5,127.0 L734.0,128.3 L735.2,129.5 L736.2,132.4 L737.5,128.9 L738.8,128.3 L739.8,130.1 L740.9,127.0 L742.1,125.8 L743.0,123.2 L743.8,118.8 L744.7,115.7 L745.9,117.0 L747.2,118.2 L748.4,117.6 L749.3,120.1 L750.3,115.7 L751.6,114.4 L752.8,116.3 L754.1,113.2 L755.1,109.0 L756.0,112.6 L756.8,115.7 L758.5,116.1 L760.1,117.0 L761.6,113.8 L762.6,111.9 L763.5,108.8 L764.4,111.9 L766.0,112.6 L767.6,112.3 L768.9,114.8 L769.8,109.4 L770.4,103.8 L771.7,108.2 L772.7,113.2 L773.9,116.6 L775.2,117.0 L776.1,116.3 L776.7,133.9 L777.1,115.7 L778.2,113.8 L779.2,111.9 L780.2,107.5 L781.1,104.4 L781.9,103.3 L783.2,100.8 L785.0,100.5 L786.9,100.8 L788.2,103.3 L789.4,105.9 L791.1,107.1 L792.6,108.4 L793.6,109.0 L794.8,106.5 L796.1,105.2 L797.4,104.6 L798.2,107.8 L799.1,108.8 L800.1,106.5 L801.1,102.7 L802.4,101.2 L803.6,99.0 L804.5,96.7 L805.8,97.7 L807.0,95.8 L808.3,94.9 L809.2,91.4 L810.2,88.9 L811.4,87.0 L812.7,87.4 L814.2,87.7 L815.2,83.9 L816.2,80.8 L817.5,79.1 L818.7,79.5 L819.5,72.6 L820.0,66.5 L820.8,70.7 L822.5,70.7 L824.2,70.3 L825.9,70.7 L827.5,71.1 L829.0,69.8 L830.3,67.6 L831.8,66.5 L832.8,70.1 L834.3,70.7 L835.9,71.1 L837.2,72.6 L838.0,77.0 L839.3,78.2 L840.6,76.6 L841.8,75.1 L843.1,74.5 L844.3,72.8 L845.6,72.0 L847.2,71.1 L848.1,70.7 L848.9,75.3 L849.4,67.6 L849.9,62.8 L851.0,65.0 L852.2,68.8 L853.5,71.1 L855.1,71.6 L856.4,70.7 L857.3,72.6 L858.1,69.4 L859.1,72.6 L860.4,72.8 L861.7,72.0 L862.9,70.7 L863.9,65.7 L864.8,67.6 L866.1,69.8 L867.3,71.3 L867.9,74.5 L868.9,68.8 L870.2,65.0 L871.5,61.9 L873.0,61.3 L874.2,62.3 L875.2,65.0 L876.5,62.8 L878.0,61.9 L879.0,60.3 L879.9,63.8 L881.1,67.6 L882.4,68.6 L884.0,69.1 L885.5,69.4 L886.8,68.2 L888.0,66.0 L888.7,72.6 L889.3,64.4 L890.5,60.6 L892.0,59.8 L893.7,58.1 L894.9,56.0 L896.2,56.9 L897.5,58.8 L898.7,60.6 L900.0,59.4 L901.2,60.0 L902.5,58.1 L903.7,58.8 L903.8,60.8 L905.1,65.1 L906.1,58.9 L906.8,52.6 L907.3,46.9 L908.0,47.6 L908.6,55.1 L909.5,54.5 L910.4,51.3 L911.4,50.1 L912.6,50.7 L913.2,53.8 L914.1,57.6 L915.1,58.9 L916.1,60.1 L917.0,63.9 L917.9,62.0 L918.6,60.1 L919.5,63.3 L920.8,64.5 L922.0,65.1 L922.9,64.5 L923.9,67.0 L924.7,69.5 L925.4,65.1 L926.4,62.0 L927.7,60.8 L929.2,61.1 L930.2,59.5 L931.5,62.0 L932.2,60.1 L933.0,64.5 L934.0,67.7 L935.0,69.5 L935.8,63.9 L936.7,58.2 L937.7,53.8 L939.0,52.6 L940.2,50.7 L941.2,53.8 L942.1,57.0 L943.0,57.6 L943.4,69.5 L944.0,61.4 L944.6,68.9 L945.5,67.0 L946.3,70.8 L947.1,67.7 L947.8,71.4 L948.4,67.0 L949.0,72.7 L949.5,77.1 L950.0,65.1 L950.8,58.2 L951.5,63.9 L952.5,62.0 L953.4,64.5 L954.3,65.1 L955.3,62.0 L956.1,56.4 L956.8,52.6 L957.3,50.7 L958.1,56.4 L958.6,63.9 L959.1,71.4 L960.1,72.7 L961.0,68.9 L961.8,73.9 L962.8,75.8 L963.9,72.7 L964.4,68.3 L965.1,72.7 L965.9,65.1 L966.6,62.0 L967.6,60.1 L968.4,63.3 L969.1,59.5 L970.1,57.6 L971.0,55.1 L972.3,53.2 L973.5,54.5 L974.8,55.7 L975.7,52.6 L976.7,50.1 L977.9,49.4 L978.9,48.6 L979.9,50.7 L980.7,53.2 L981.7,54.5 L982.4,57.0 L983.1,49.4 L983.7,59.5 L984.5,57.0 L985.5,56.1 L986.7,56.6 L988.0,56.1 L989.0,54.5 L990.0,55.1 L990.7,58.2 L991.7,56.4 L992.7,57.6 L993.7,57.0 L994.8,59.5 L995.8,57.6 L996.8,53.8 L997.8,53.6 L998.8,55.1 L999.5,62.6 L1000.3,58.2 L1001.0,62.0 L1001.8,58.9 L1002.5,62.0 L1003.3,58.2 L1004.0,60.1" fill="none" stroke="#00008b" stroke-opacity="0.8" stroke-width="1.9" stroke-linejoin="round" stroke-linecap="butt"/>
<path d="M152.60,412.85 v-4.9 M152.60,29.5 v4.9 M303.80,412.85 v-4.9 M303.80,29.5 v4.9 M456.20,412.85 v-4.9 M456.20,29.5 v4.9 M607.10,412.85 v-4.9 M607.10,29.5 v4.9 M759.40,412.85 v-4.9 M759.40,29.5 v4.9 M910.60,412.85 v-4.9 M910.60,29.5 v4.9 M77.35,412.85 v-2.6 M77.35,29.5 v2.6 M114.97,412.85 v-2.6 M114.97,29.5 v2.6 M190.40,412.85 v-2.6 M190.40,29.5 v2.6 M228.20,412.85 v-2.6 M228.20,29.5 v2.6 M266.00,412.85 v-2.6 M266.00,29.5 v2.6 M341.90,412.85 v-2.6 M341.90,29.5 v2.6 M380.00,412.85 v-2.6 M380.00,29.5 v2.6 M418.10,412.85 v-2.6 M418.10,29.5 v2.6 M493.92,412.85 v-2.6 M493.92,29.5 v2.6 M531.65,412.85 v-2.6 M531.65,29.5 v2.6 M569.38,412.85 v-2.6 M569.38,29.5 v2.6 M645.18,412.85 v-2.6 M645.18,29.5 v2.6 M683.25,412.85 v-2.6 M683.25,29.5 v2.6 M721.32,412.85 v-2.6 M721.32,29.5 v2.6 M797.20,412.85 v-2.6 M797.20,29.5 v2.6 M835.00,412.85 v-2.6 M835.00,29.5 v2.6 M872.80,412.85 v-2.6 M872.80,29.5 v2.6 M948.90,412.85 v-2.6 M948.90,29.5 v2.6 M987.20,412.85 v-2.6 M987.20,29.5 v2.6 M1025.50,412.85 v-2.6 M1025.50,29.5 v2.6 M53.5,391.50 h4.9 M1049.5,391.50 h-4.9 M53.5,342.50 h4.9 M1049.5,342.50 h-4.9 M53.5,293.50 h4.9 M1049.5,293.50 h-4.9 M53.5,244.50 h4.9 M1049.5,244.50 h-4.9 M53.5,195.50 h4.9 M1049.5,195.50 h-4.9 M53.5,146.50 h4.9 M1049.5,146.50 h-4.9 M53.5,97.50 h4.9 M1049.5,97.50 h-4.9 M53.5,48.50 h4.9 M1049.5,48.50 h-4.9 M53.5,404.50 h2.6 M1049.5,404.50 h-2.6 M53.5,379.50 h2.6 M1049.5,379.50 h-2.6 M53.5,367.50 h2.6 M1049.5,367.50 h-2.6 M53.5,355.50 h2.6 M1049.5,355.50 h-2.6 M53.5,330.50 h2.6 M1049.5,330.50 h-2.6 M53.5,318.50 h2.6 M1049.5,318.50 h-2.6 M53.5,306.50 h2.6 M1049.5,306.50 h-2.6 M53.5,281.50 h2.6 M1049.5,281.50 h-2.6 M53.5,269.50 h2.6 M1049.5,269.50 h-2.6 M53.5,257.50 h2.6 M1049.5,257.50 h-2.6 M53.5,232.50 h2.6 M1049.5,232.50 h-2.6 M53.5,220.50 h2.6 M1049.5,220.50 h-2.6 M53.5,208.50 h2.6 M1049.5,208.50 h-2.6 M53.5,183.50 h2.6 M1049.5,183.50 h-2.6 M53.5,171.50 h2.6 M1049.5,171.50 h-2.6 M53.5,159.50 h2.6 M1049.5,159.50 h-2.6 M53.5,134.50 h2.6 M1049.5,134.50 h-2.6 M53.5,122.50 h2.6 M1049.5,122.50 h-2.6 M53.5,109.50 h2.6 M1049.5,109.50 h-2.6 M53.5,85.50 h2.6 M1049.5,85.50 h-2.6 M53.5,73.50 h2.6 M1049.5,73.50 h-2.6 M53.5,60.50 h2.6 M1049.5,60.50 h-2.6 M53.5,36.50 h2.6 M1049.5,36.50 h-2.6" stroke="#000" stroke-opacity="0.75" stroke-width="0.9" fill="none"/>
<path d="M53.5,29.5 H1049.5" stroke="#000" stroke-opacity="0.72" stroke-width="1" stroke-linecap="square" fill="none"/>
<path d="M53.5,412.85 H1049.5" stroke="#000" stroke-opacity="0.72" stroke-width="1" stroke-linecap="square" fill="none"/>
<path d="M53.5,29.5 V412.85" stroke="#000" stroke-opacity="0.72" stroke-width="1" stroke-linecap="square" fill="none"/>
<path d="M1049.5,29.5 V412.85" stroke="#000" stroke-opacity="0.72" stroke-width="1" stroke-linecap="square" fill="none"/>
<text x="47.6" y="397.7" font-size="17" text-anchor="end" textLength="18.7" lengthAdjust="spacingAndGlyphs">0.0</text>
<text x="47.6" y="348.7" font-size="17" text-anchor="end" textLength="18.7" lengthAdjust="spacingAndGlyphs">0.2</text>
<text x="47.6" y="299.7" font-size="17" text-anchor="end" textLength="18.7" lengthAdjust="spacingAndGlyphs">0.4</text>
<text x="47.6" y="250.7" font-size="17" text-anchor="end" textLength="18.7" lengthAdjust="spacingAndGlyphs">0.6</text>
<text x="47.6" y="201.7" font-size="17" text-anchor="end" textLength="18.7" lengthAdjust="spacingAndGlyphs">0.8</text>
<text x="47.6" y="152.7" font-size="17" text-anchor="end" textLength="18.7" lengthAdjust="spacingAndGlyphs">1.0</text>
<text x="47.6" y="103.7" font-size="17" text-anchor="end" textLength="18.7" lengthAdjust="spacingAndGlyphs">1.2</text>
<text x="47.6" y="54.7" font-size="17" text-anchor="end" textLength="18.7" lengthAdjust="spacingAndGlyphs">1.4</text>
<text transform="translate(143.2,419.6) rotate(-30)" x="0" y="11" font-size="17" text-anchor="end" textLength="28.7" lengthAdjust="spacingAndGlyphs">2014</text>
<text transform="translate(294.4,419.6) rotate(-30)" x="0" y="11" font-size="17" text-anchor="end" textLength="28.7" lengthAdjust="spacingAndGlyphs">2016</text>
<text transform="translate(446.8,419.6) rotate(-30)" x="0" y="11" font-size="17" text-anchor="end" textLength="28.7" lengthAdjust="spacingAndGlyphs">2018</text>
<text transform="translate(597.7,419.6) rotate(-30)" x="0" y="11" font-size="17" text-anchor="end" textLength="28.7" lengthAdjust="spacingAndGlyphs">2020</text>
<text transform="translate(750.0,419.6) rotate(-30)" x="0" y="11" font-size="17" text-anchor="end" textLength="28.7" lengthAdjust="spacingAndGlyphs">2022</text>
<text transform="translate(901.2,419.6) rotate(-30)" x="0" y="11" font-size="17" text-anchor="end" textLength="28.7" lengthAdjust="spacingAndGlyphs">2024</text>
<text x="53.3" y="25" font-size="17" textLength="20.2" lengthAdjust="spacingAndGlyphs">1e6</text>
<text transform="translate(15.6,222.9) rotate(-90)" font-size="17" text-anchor="middle" textLength="26.2" lengthAdjust="spacingAndGlyphs">PnL</text>
<text y="20.3" font-size="19.5"><tspan x="380.0" textLength="86.6" lengthAdjust="spacingAndGlyphs">Cumulative</tspan> <tspan x="472.6" textLength="32.4" lengthAdjust="spacingAndGlyphs">PnL</tspan> <tspan x="509.9" textLength="22.8" lengthAdjust="spacingAndGlyphs">w/</tspan> <tspan x="538.8" textLength="85.4" lengthAdjust="spacingAndGlyphs">Drawdown</tspan> <tspan x="630.6" textLength="38.6" lengthAdjust="spacingAndGlyphs">(VIX</tspan> <tspan x="674.8" textLength="6.6" lengthAdjust="spacingAndGlyphs">-</tspan> <tspan x="686.6" textLength="34.4" lengthAdjust="spacingAndGlyphs">EM)</tspan></text>
<rect x="61.7" y="37.4" width="165.9" height="54.8" rx="3.2" ry="3.2" fill="#ffffff" fill-opacity="0.8" stroke="#cccccc" stroke-width="1.1"/>
<path d="M68.2,50.7 H103.2" stroke="#00008b" stroke-opacity="0.8" stroke-width="1.7" fill="none"/>
<rect x="68.3" y="69.3" width="33.6" height="10.6" fill="#00008b" fill-opacity="0.15"/>
<text x="115.0" y="57.9" font-size="17" textLength="106" lengthAdjust="spacingAndGlyphs">Cumulative PnL</text>
<text x="115.0" y="81.8" font-size="17" textLength="70.6" lengthAdjust="spacingAndGlyphs">Drawdown</text>
</svg>
</body></html>
